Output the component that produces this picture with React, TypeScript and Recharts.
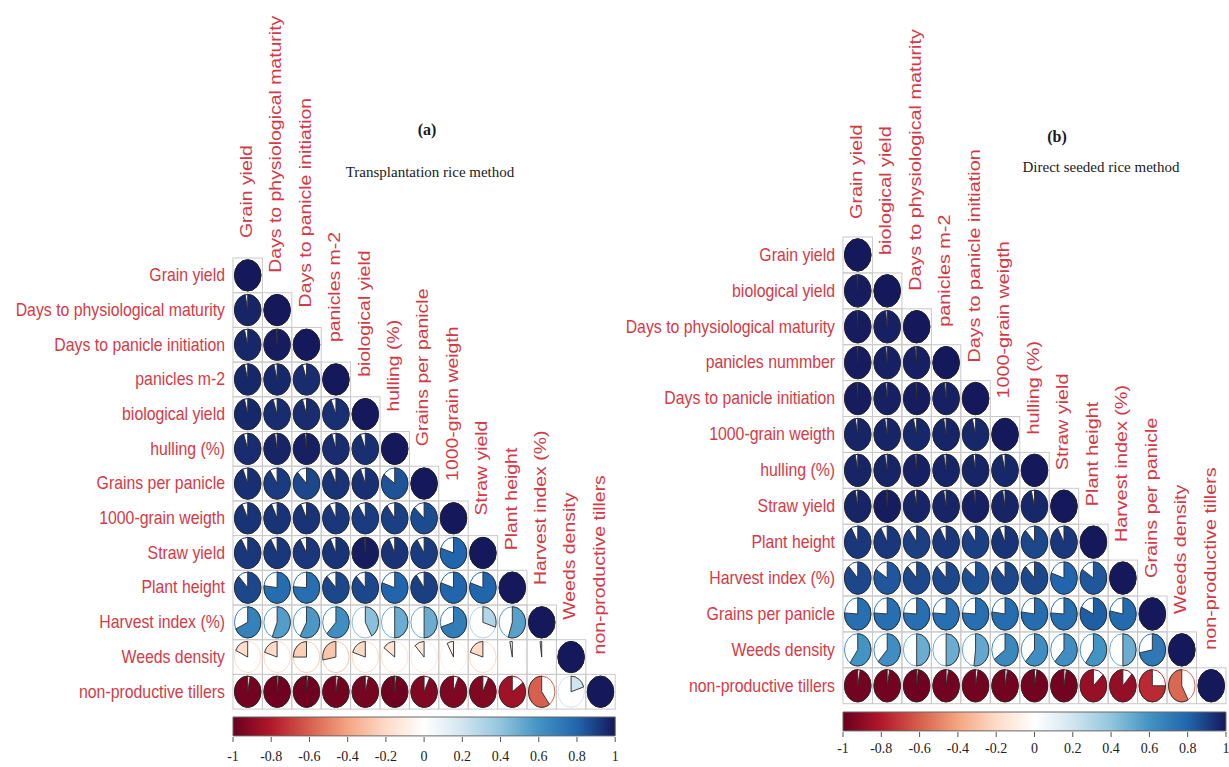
import React from "react";
import { ScatterChart, Scatter, XAxis, YAxis, BarChart, Bar } from "recharts";

// ---- Variables (rows top→bottom, columns left→right) ----
const rowsA = [
  "Grain yield",
  "Days to physiological maturity",
  "Days to panicle initiation",
  "panicles m-2",
  "biological yield",
  "hulling (%)",
  "Grains per panicle",
  "1000-grain weigth",
  "Straw yield",
  "Plant height",
  "Harvest index (%)",
  "Weeds density",
  "non-productive tillers",
];
const colsA = [...rowsA];

const rowsB = [
  "Grain yield",
  "biological yield",
  "Days to physiological maturity",
  "panicles nummber",
  "Days to panicle initiation",
  "1000-grain weigth",
  "hulling (%)",
  "Straw yield",
  "Plant height",
  "Harvest index (%)",
  "Grains per panicle",
  "Weeds density",
  "non-productive tillers",
];
const colsB = [
  "Grain yield",
  "biological yield",
  "Days to physiological maturity",
  "panicles m-2",
  "Days to panicle initiation",
  "1000-grain weigth",
  "hulling (%)",
  "Straw yield",
  "Plant height",
  "Harvest index (%)",
  "Grains per panicle",
  "Weeds density",
  "non-productive tillers",
];

// ---- Lower-triangle correlation coefficients ----
const corrA: number[][] = [
  [1],
  [0.97, 1],
  [0.96, 0.99, 1],
  [0.96, 0.96, 0.95, 1],
  [0.96, 0.95, 0.95, 0.94, 1],
  [0.95, 0.97, 0.98, 0.95, 0.94, 1],
  [0.94, 0.91, 0.88, 0.93, 0.94, 0.85, 1],
  [0.93, 0.93, 0.93, 0.92, 0.91, 0.9, 0.87, 1],
  [0.92, 0.92, 0.92, 0.93, 0.99, 0.93, 0.91, 0.8, 1],
  [0.88, 0.77, 0.76, 0.88, 0.88, 0.8, 0.9, 0.8, 0.8, 1],
  [0.68, 0.56, 0.58, 0.62, 0.42, 0.5, 0.5, 0.7, 0.3, 0.55, 1],
  [-0.18, -0.2, -0.25, -0.28, -0.2, -0.15, -0.12, -0.08, -0.2, -0.03, -0.02, 1],
  [-0.97, -0.98, -0.98, -0.97, -0.96, -0.98, -0.93, -0.94, -0.93, -0.85, -0.6, 0.2, 1],
];

const corrB: number[][] = [
  [1],
  [0.99, 1],
  [0.99, 0.98, 1],
  [0.99, 0.98, 0.98, 1],
  [0.99, 0.98, 0.99, 0.98, 1],
  [0.97, 0.97, 0.96, 0.97, 0.96, 1],
  [0.97, 0.97, 0.98, 0.97, 0.97, 0.96, 1],
  [0.97, 0.99, 0.97, 0.97, 0.98, 0.97, 0.96, 1],
  [0.92, 0.92, 0.9, 0.92, 0.9, 0.93, 0.88, 0.92, 1],
  [0.88, 0.84, 0.88, 0.88, 0.86, 0.88, 0.88, 0.8, 0.84, 1],
  [0.76, 0.76, 0.76, 0.76, 0.76, 0.77, 0.77, 0.76, 0.82, 0.78, 1],
  [0.6, 0.62, 0.5, 0.5, 0.52, 0.65, 0.62, 0.62, 0.6, 0.5, 0.72, 1],
  [-0.97, -0.97, -0.98, -0.97, -0.97, -0.97, -0.97, -0.97, -0.87, -0.88, -0.75, -0.58, 1],
];

// ---- Colour key ----
const scaleTicks = [-1, -0.8, -0.6, -0.4, -0.2, 0, 0.2, 0.4, 0.6, 0.8, 1];
const scaleRange = [-1, 1];

// Diverging palette (red → white → blue)
const palette = [
  "#67001F",
  "#B2182B",
  "#D6604D",
  "#F4A582",
  "#FDDBC7",
  "#FFFFFF",
  "#D1E5F0",
  "#92C5DE",
  "#4393C3",
  "#2166AC",
  "#15185A",
];

function hexToRgb(h: string) {
  const n = parseInt(h.slice(1), 16);
  return [(n >> 16) & 255, (n >> 8) & 255, n & 255];
}

function corrColor(r: number) {
  const t = ((Math.max(-1, Math.min(1, r)) + 1) / 2) * (palette.length - 1);
  const i = Math.min(palette.length - 2, Math.floor(t));
  const f = t - i;
  const a = hexToRgb(palette[i]);
  const b = hexToRgb(palette[i + 1]);
  const c = a.map((v, k) => Math.round(v + (b[k] - v) * f));
  return `rgb(${c[0]},${c[1]},${c[2]})`;
}

const LABEL_RED = "#d43a46";
const SANS = '"Liberation Sans", Arial, sans-serif';
const SERIF = '"Liberation Serif", "Times New Roman", serif';

type PanelCfg = {
  left: number;
  width: number;
  gridLeft: number;
  gridTop: number;
  cellW: number;
  cellH: number;
  labelGap: number;
  colVScale: number;
  barTop: number;
  tickMargin: number;
};

const CHART_H = 767;
const FONT = 18;
const H_SCALE = 0.88;

const panelA: PanelCfg = {
  left: 0,
  width: 625,
  gridLeft: 233,
  gridTop: 258,
  cellW: 29.4,
  cellH: 34.7,
  labelGap: 20,
  colVScale: 1.08,
  barTop: 716,
  tickMargin: 9,
};

const panelB: PanelCfg = {
  left: 620,
  width: 609,
  gridLeft: 223,
  gridTop: 237,
  cellW: 29.46,
  cellH: 35.9,
  labelGap: 18,
  colVScale: 1.1,
  barTop: 711,
  tickMargin: 6,
};

function piePath(cx: number, cy: number, rx: number, ry: number, r: number) {
  const frac = Math.min(Math.abs(r), 1);
  const ang = frac * 2 * Math.PI * (r >= 0 ? 1 : -1);
  const x1 = cx + rx * Math.sin(ang);
  const y1 = cy - ry * Math.cos(ang);
  const large = frac > 0.5 ? 1 : 0;
  const sweep = r >= 0 ? 1 : 0;
  return `M${cx},${cy} L${cx},${cy - ry} A${rx},${ry} 0 ${large} ${sweep} ${x1},${y1} Z`;
}

function PieCell(props: any) {
  const { cx, cy, payload, cfg } = props;
  const w = cfg.cellW;
  const h = cfg.cellH;
  const rx = w * 0.45;
  const ry = h * 0.45;
  const r = payload.r as number;
  const col = corrColor(r);
  return (
    <g>
      <rect
        x={cx - w / 2}
        y={cy - h / 2}
        width={w}
        height={h}
        fill="none"
        stroke="#c9c9c9"
        strokeWidth={1}
      />
      <ellipse cx={cx} cy={cy} rx={rx} ry={ry} fill="none" stroke={col} strokeWidth={1} />
      {Math.abs(r) >= 0.999 ? (
        <ellipse cx={cx} cy={cy} rx={rx} ry={ry} fill={col} stroke="#222" strokeWidth={0.9} />
      ) : (
        <path d={piePath(cx, cy, rx, ry, r)} fill={col} stroke="#2a2a2a" strokeWidth={0.9} />
      )}
    </g>
  );
}

function ColLabel(props: any) {
  const { cx, cy, payload, cfg } = props;
  const yb = cy - cfg.cellH / 2 - cfg.labelGap;
  return (
    <text
      transform={`translate(${cx - 1},${yb}) scale(${H_SCALE},${cfg.colVScale}) rotate(-90)`}
      x={0}
      y={0}
      textAnchor="start"
      dominantBaseline="central"
      fill={LABEL_RED}
      fontSize={FONT}
      fontFamily={SANS}
    >
      {payload.name}
    </text>
  );
}

function RowTick(props: any) {
  const { y, payload, rows, cfg } = props;
  const x = cfg.gridLeft - 8;
  return (
    <text
      transform={`translate(${x},${y}) scale(${H_SCALE},1)`}
      x={0}
      y={0}
      textAnchor="end"
      dominantBaseline="central"
      fill={LABEL_RED}
      fontSize={FONT}
      fontFamily={SANS}
    >
      {rows[payload.value - 1]}
    </text>
  );
}

function CorrPanel({
  rows,
  cols,
  corr,
  cfg,
  gradId,
}: {
  rows: string[];
  cols: string[];
  corr: number[][];
  cfg: PanelCfg;
  gradId: string;
}) {
  const n = rows.length;
  const cells = corr.flatMap((row, i) => row.map((r, j) => ({ x: j + 1, y: i + 1, r })));
  const diag = cols.map((name, i) => ({ x: i + 1, y: i + 1, name }));
  const gridW = cfg.cellW * n;
  const gridH = cfg.cellH * n;
  const rightM = cfg.width - cfg.gridLeft - gridW;
  const idx = rows.map((_, i) => i + 1);

  const barH = 21;
  const axisH = 30;
  const barChartTop = cfg.barTop - 16;
  const barChartH = 16 + barH + axisH;

  return (
    <>
      <div style={{ position: "absolute", left: cfg.left, top: 0 }}>
        <ScatterChart
          width={cfg.width}
          height={CHART_H}
          margin={{ top: cfg.gridTop, right: rightM, bottom: CHART_H - cfg.gridTop - gridH, left: 0 }}
        >
          <XAxis type="number" dataKey="x" domain={[0.5, n + 0.5]} hide />
          <YAxis
            type="number"
            dataKey="y"
            domain={[0.5, n + 0.5]}
            reversed
            ticks={idx}
            interval={0}
            width={cfg.gridLeft}
            axisLine={false}
            tickLine={false}
            tick={(p: any) => <RowTick {...p} rows={rows} cfg={cfg} />}
          />
          <Scatter
            data={cells}
            isAnimationActive={false}
            shape={(p: any) => <PieCell {...p} cfg={cfg} />}
          />
          <Scatter
            data={diag}
            isAnimationActive={false}
            shape={(p: any) => <ColLabel {...p} cfg={cfg} />}
          />
        </ScatterChart>
      </div>
      <div style={{ position: "absolute", left: cfg.left, top: barChartTop }}>
        <BarChart
          layout="vertical"
          width={cfg.width}
          height={barChartH}
          data={[{ name: "key", range: scaleRange }]}
          margin={{ top: 16, right: rightM, bottom: 0, left: cfg.gridLeft }}
          barCategoryGap={0}
        >
          <XAxis
            type="number"
            domain={[-1, 1]}
            ticks={scaleTicks}
            interval={0}
            height={axisH}
            axisLine={false}
            tickSize={5}
            tickMargin={cfg.tickMargin}
            tickLine={{ stroke: "#555" }}
            tick={{ fill: "#222", fontSize: 14, fontFamily: SERIF }}
            tickFormatter={(v: number) => String(v)}
          />
          <YAxis type="category" dataKey="name" hide />
          <Bar
            dataKey="range"
            fill={`url(#${gradId})`}
            stroke="#666"
            strokeWidth={1}
            barSize={barH}
            isAnimationActive={false}
          />
        </BarChart>
      </div>
    </>
  );
}

const titleStyle: React.CSSProperties = {
  position: "absolute",
  width: 260,
  textAlign: "center",
  color: "#1a1a1a",
  fontFamily: SERIF,
  whiteSpace: "nowrap",
};

export default function App() {
  return (
    <div
      style={{
        position: "absolute",
        left: 0,
        top: 0,
        width: 1229,
        height: 767,
        background: "#ffffff",
        overflow: "hidden",
      }}
    >
      <svg width={1} height={1} style={{ position: "absolute", left: 0, top: 0 }}>
        <defs>
          {["cbA", "cbB"].map((id) => (
            <linearGradient key={id} id={id} x1="0" y1="0" x2="1" y2="0">
              {palette.map((c, i) => (
                <stop key={i} offset={`${(i / (palette.length - 1)) * 100}%`} stopColor={c} />
              ))}
            </linearGradient>
          ))}
        </defs>
      </svg>

      <CorrPanel rows={rowsA} cols={colsA} corr={corrA} cfg={panelA} gradId="cbA" />
      <CorrPanel rows={rowsB} cols={colsB} corr={corrB} cfg={panelB} gradId="cbB" />

      <div style={{ ...titleStyle, left: 297, top: 121, fontSize: 16, fontWeight: "bold", lineHeight: "18px" }}>
        (a)
      </div>
      <div style={{ ...titleStyle, left: 300, top: 163, fontSize: 15, lineHeight: "18px" }}>
        Transplantation rice method
      </div>
      <div style={{ ...titleStyle, left: 927, top: 128, fontSize: 16, fontWeight: "bold", lineHeight: "18px" }}>
        (b)
      </div>
      <div style={{ ...titleStyle, left: 971, top: 158, fontSize: 15, lineHeight: "18px" }}>
        Direct seeded rice method
      </div>
    </div>
  );
}
